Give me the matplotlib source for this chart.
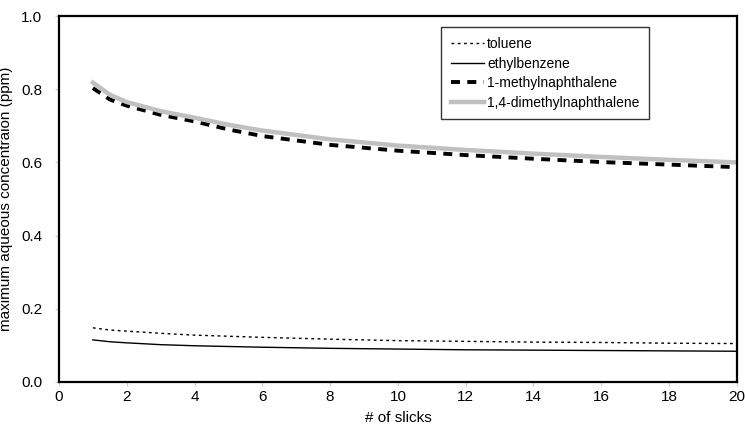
import matplotlib.pyplot as plt

plt.rcParams['font.family'] = ['Liberation Sans', 'DejaVu Sans']

slicks = [1, 1.5, 2, 3, 4, 5, 6, 8, 10, 12, 14, 16, 18, 20]
toluene = [0.148, 0.142, 0.139, 0.133, 0.128, 0.125, 0.122, 0.117, 0.113, 0.111, 0.109, 0.108, 0.106, 0.105]
ethylbenzene = [0.115, 0.110, 0.107, 0.102, 0.099, 0.097, 0.095, 0.092, 0.090, 0.088, 0.087, 0.086, 0.085, 0.084]
methylnaph = [0.803, 0.772, 0.755, 0.730, 0.712, 0.690, 0.672, 0.648, 0.632, 0.620, 0.610, 0.601, 0.594, 0.587]
dimethylnaph = [0.818, 0.785, 0.765, 0.740, 0.722, 0.703, 0.687, 0.663, 0.646, 0.634, 0.624, 0.615, 0.607, 0.600]

fig = plt.figure(figsize=(7.45, 4.33), dpi=100)
ax = fig.add_axes([0.0792, 0.1178, 0.9098, 0.8452])

ax.plot(slicks, toluene, color="black", lw=1.0, ls=(0, (2, 2.5)), label="toluene")
ax.plot(slicks, ethylbenzene, color="black", lw=1.0, label="ethylbenzene")
ax.plot(slicks, methylnaph, color="black", lw=2.8, ls=(0, (2.3, 1.9)), label="1-methylnaphthalene")
ax.plot(slicks, dimethylnaph, color="#c0c0c0", lw=3.2, label="1,4-dimethylnaphthalene")

ax.set_xlim(0, 20)
ax.set_ylim(0, 1.0)
ax.set_xticks(range(0, 21, 2))
ax.set_yticks([0.0, 0.2, 0.4, 0.6, 0.8, 1.0])
ax.set_yticklabels(["0.0", "0.2", "0.4", "0.6", "0.8", "1.0"])
ax.tick_params(labelsize=11, length=3, color="#cccccc")
ax.tick_params(axis="x", pad=3)
ax.tick_params(axis="y", pad=9)
for s in ax.spines.values():
    s.set_linewidth(1.6)

ax.set_xlabel("# of slicks", fontsize=11, labelpad=5)
ax.set_ylabel("maximum aqueous concentraion (ppm)", fontsize=11, labelpad=6)

leg = ax.legend(loc="upper left", bbox_to_anchor=(0.564, 0.969), fontsize=10,
                frameon=True, fancybox=False, edgecolor="black",
                handlelength=2.4, handletextpad=0.2, borderpad=0.7,
                labelspacing=0.4, borderaxespad=0)
leg.get_frame().set_linewidth(1.0)

fig.savefig("out.png", dpi=100)
